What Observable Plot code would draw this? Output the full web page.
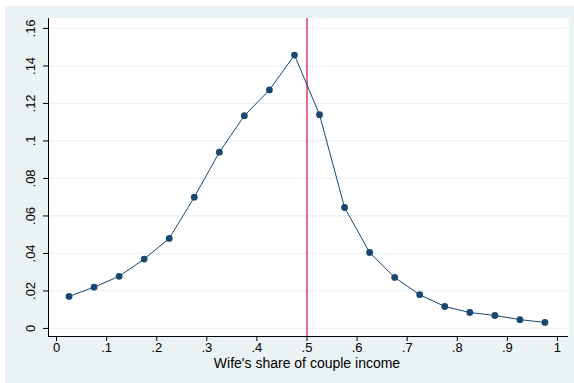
<!DOCTYPE html>
<html>
<head>
<meta charset="utf-8">
<script src="https://cdn.jsdelivr.net/npm/d3@7"></script>
<script src="https://cdn.jsdelivr.net/npm/@observablehq/plot@0.6"></script>
<style>
  html, body { margin: 0; padding: 0; background: #ffffff; }
  #panel { position: absolute; left: 5px; top: 6px; width: 569px; height: 377px; background: #eaf2f3; overflow: hidden; }
  #panel svg { position: absolute; left: -5px; top: -6px; background: transparent; max-width: none !important; width: 574px; height: 383px; }
</style>
</head>
<body>
<div id="panel"></div>
<script>
const shareBins = [0.025, 0.075, 0.125, 0.175, 0.225, 0.275, 0.325, 0.375, 0.425, 0.475,
                   0.525, 0.575, 0.625, 0.675, 0.725, 0.775, 0.825, 0.875, 0.925, 0.975];
const fractions = [0.0171, 0.0220, 0.0278, 0.0370, 0.0480, 0.0700, 0.0940, 0.1135, 0.1272, 0.1458,
                   0.1140, 0.0645, 0.0405, 0.0272, 0.0180, 0.0117, 0.0085, 0.0069, 0.0047, 0.0032];
const xTicks = [0, 0.1, 0.2, 0.3, 0.4, 0.5, 0.6, 0.7, 0.8, 0.9, 1];
const yTicks = [0, 0.02, 0.04, 0.06, 0.08, 0.1, 0.12, 0.14, 0.16];
const cutoff = [0.5];
const xLabel = "Wife's share of couple income";

const data = shareBins.map((x, i) => ({x, y: fractions[i]}));
const fmt = d => d === 0 ? "0" : (d === 1 ? "1" : String(+d.toFixed(2)).replace(/^0/, ""));
const xDomain = [-0.016, 1.022];
const yDomain = [-0.0043, 0.1653];
const navy = "#1a476f";

const chart = Plot.plot({
  width: 574,
  height: 383,
  marginLeft: 48,
  marginRight: 6,
  marginTop: 18,
  marginBottom: 47,
  style: {fontFamily: "Liberation Sans, Arial, sans-serif", fontSize: "13px", color: "#000", background: "transparent"},
  x: {domain: xDomain, ticks: xTicks},
  y: {domain: yDomain, ticks: yTicks},
  marks: [
    Plot.frame({fill: "white", stroke: null}),
    Plot.gridY(yTicks, {stroke: "#eaf2f3", strokeOpacity: 1, strokeWidth: 1.2}),
    Plot.ruleX(cutoff, {stroke: "#d6204f", strokeWidth: 1.3}),
    Plot.line(data, {x: "x", y: "y", stroke: navy, strokeWidth: 1}),
    Plot.dot(data, {x: "x", y: "y", r: 3.4, fill: navy, stroke: null}),
    Plot.ruleX([xDomain[0]], {stroke: "#000", strokeWidth: 1}),
    Plot.ruleY([yDomain[0]], {stroke: "#000", strokeWidth: 1}),
    Plot.axisX(xTicks, {tickSize: 5, tickPadding: 1, tickFormat: fmt, label: null, fontSize: 13}),
    Plot.axisY(yTicks, {tickSize: 5, tickPadding: 9, tickFormat: fmt, tickRotate: -90, label: null, fontSize: 13}),
    Plot.text([xLabel], {frameAnchor: "bottom", x: 0.5, dy: 27, lineAnchor: "middle", text: d => d, fontSize: 14, fill: "#000"})
  ]
});
document.getElementById("panel").appendChild(chart);
</script>
</body>
</html>
